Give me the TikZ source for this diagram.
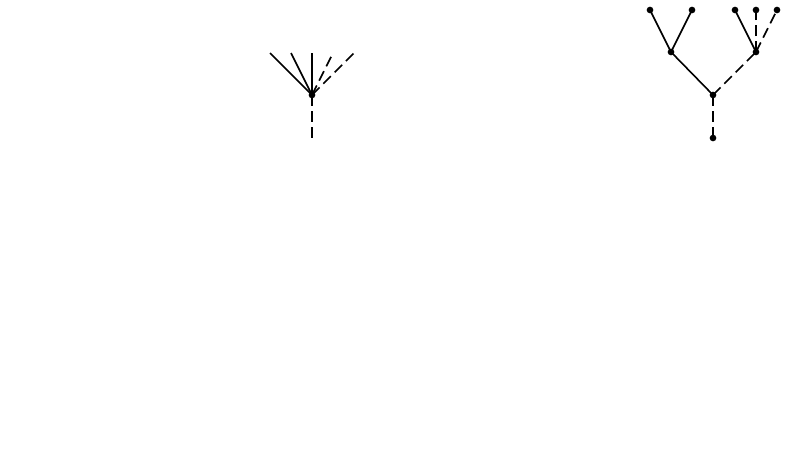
\documentclass[tikz,border=0pt]{standalone}
\usepackage{tikz}
\usetikzlibrary{arrows}

\tikzset{
  dot/.style={circle,fill=black,inner sep=0pt,minimum size=5pt},
  edge/.style={line width=1.2pt},
  dashedge/.style={line width=1.2pt,dash pattern={on 8pt off 4pt}}
}

\begin{document}
\begin{tikzpicture}[x=0.75pt,y=0.75pt,yscale=-1,xscale=1]
\useasboundingbox (0,0) rectangle (800,450);

%Left tree: centre vertex
\node [dot] (c) at (312,95) {};
\coordinate (c1) at (270,53);
\coordinate (c2) at (291,53);
\coordinate (c3) at (312,53);
\coordinate (c4) at (333,53);
\coordinate (c5) at (354,53);
\coordinate (c0) at (312,138);
%Straight Lines
\draw [edge] (c.center) -- (c1) ;
\draw [edge] (c.center) -- (c2) ;
\draw [edge] (c.center) -- (c3) ;
\draw [dashedge] (c.center) -- (c4) ;
\draw [dashedge] (c.center) -- (c5) ;
\draw [dashedge] (c.center) -- (c0) ;

%Right tree: vertices
\node [dot] (r) at (713,95) {};
\node [dot] (b) at (713,138) {};
\node [dot] (m1) at (671,52) {};
\node [dot] (m2) at (756,52) {};
\node [dot] (l1) at (650,10) {};
\node [dot] (l2) at (692,10) {};
\node [dot] (l3) at (735,10) {};
\node [dot] (l4) at (756,10) {};
\node [dot] (l5) at (777,10) {};
%Straight Lines
\draw [edge] (r.center) -- (m1.center) ;
\draw [dashedge] (r.center) -- (m2.center) ;
\draw [dashedge] (r.center) -- (b.center) ;
\draw [edge] (m1.center) -- (l1.center) ;
\draw [edge] (m1.center) -- (l2.center) ;
\draw [edge] (m2.center) -- (l3.center) ;
\draw [dashedge] (m2.center) -- (l4.center) ;
\draw [dashedge] (m2.center) -- (l5.center) ;

\end{tikzpicture}
\end{document}
